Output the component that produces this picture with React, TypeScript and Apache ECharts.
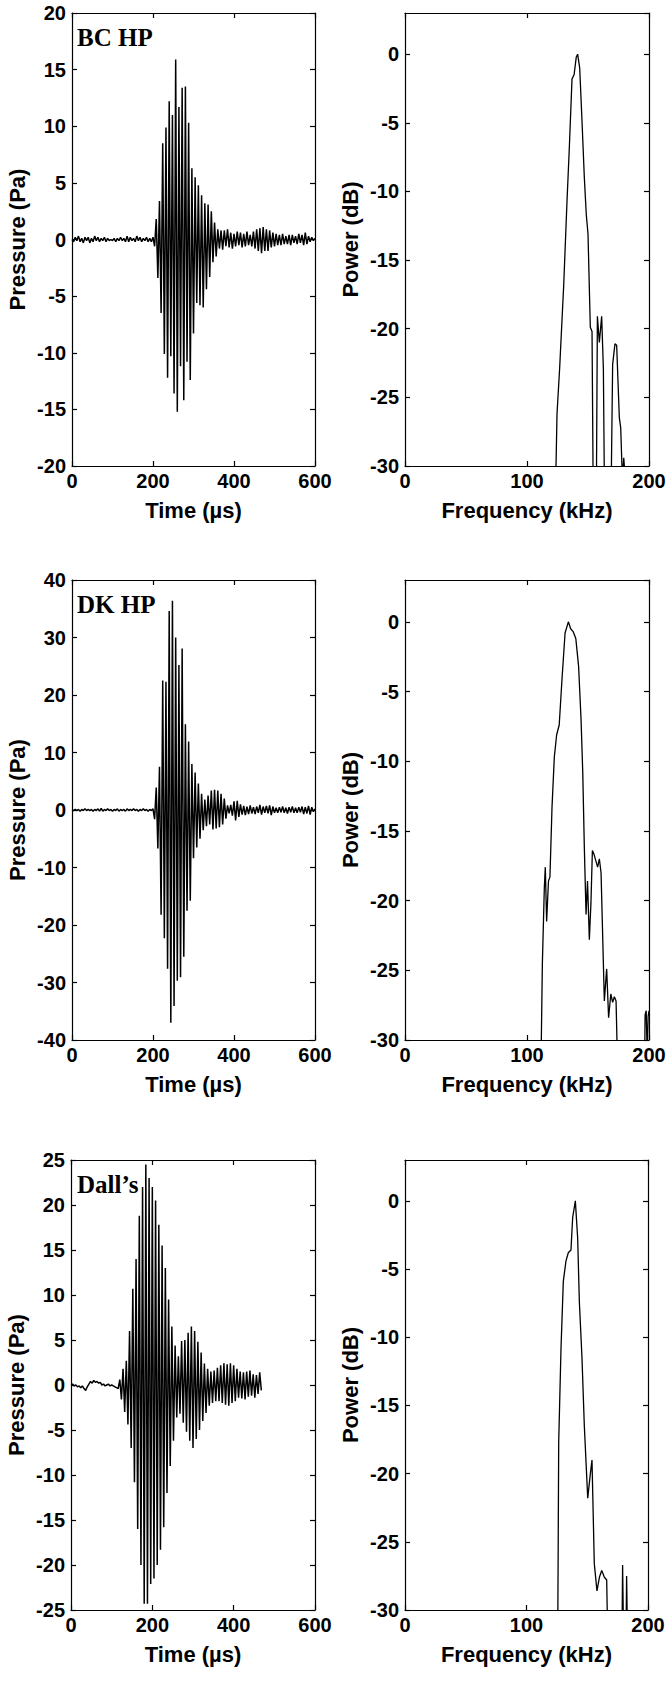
import React, { useEffect, useRef } from "react";
import * as echarts from "echarts";

// ---- data ----
const TIME_STEP_US = 4; // waveform sample grid (µs)

const timeAxisRange = { min: 0, max: 600, interval: 200 };
const freqAxisRange = { min: 0, max: 200, interval: 100 };
const bcHpPressureRange = { min: -20, max: 20, interval: 5 };
const dkHpPressureRange = { min: -40, max: 40, interval: 10 };
const dallsPressureRange = { min: -25, max: 25, interval: 5 };
const powerRange = { min: -30, max: 3, interval: 5 };

const panelLabels = ["BC HP", "DK HP", "Dall\u2019s"];

const bcHpPressure = [
  0.0, -0.2, 0.2, -0.1, 0.3, -0.2, 0.1, -0.3, 0.2, -0.1,
  0.2, -0.3, 0.1, -0.2, 0.3, -0.1, 0.2, -0.2, 0.1, -0.1,
  0.2, -0.2, 0.1, -0.1, 0.0, -0.1, 0.1, -0.2, 0.1, -0.1,
  0.2, -0.1, 0.1, -0.2, 0.3, -0.2, 0.2, -0.1, 0.1, -0.2,
  0.3, -0.1, 0.2, -0.2, 0.1, -0.1, 0.2, -0.2, 0.1, -0.2,
  0.2, -0.6, 1.8, -3.4, 3.4, -6.5, 8.5, -10.1, 9.9, -12.2,
  12.2, -10.3, 11.0, -13.6, 15.9, -15.2, 11.7, -11.2, 13.4, -14.2,
  13.5, -10.8, 10.3, -12.4, 6.3, -8.3, 5.5, -5.6, 4.8, -5.8,
  3.9, -6.0, 3.2, -4.4, 3.1, -3.3, 2.5, -2.0, 1.5, -1.5,
  0.9, -0.8, 0.8, -0.9, 0.8, -0.6, 0.9, -0.7, 0.6, -0.8,
  0.5, -0.6, 0.7, -0.5, 0.6, -0.7, 0.5, -0.6, 0.7, -0.5,
  0.4, -0.6, 0.7, -0.8, 0.9, -1.0, 1.0, -1.2, 1.1, -1.0,
  0.9, -1.0, 0.8, -0.7, 0.6, -0.6, 0.5, -0.5, 0.4, -0.5,
  0.5, -0.4, 0.3, -0.4, 0.4, -0.5, 0.4, -0.3, 0.3, -0.4,
  0.5, -0.3, 0.4, -0.5, 0.6, -0.4, 0.3, -0.2, 0.2, -0.1,
  0.1,
];

const dkHpPressure = [
  0.0, -0.1, 0.1, -0.1, 0.1, -0.2, 0.1, -0.1, 0.2, -0.1,
  0.1, -0.1, 0.1, -0.2, 0.1, -0.1, 0.2, -0.2, 0.3, -0.2,
  0.1, -0.1, 0.2, -0.1, 0.1, -0.2, 0.1, -0.1, 0.2, -0.2,
  0.1, -0.1, 0.1, -0.2, 0.2, -0.1, 0.1, -0.1, 0.2, -0.1,
  0.1, -0.2, 0.1, -0.1, 0.2, -0.1, 0.1, -0.2, 0.1, -0.1,
  0.2, -1.6, 3.9, -6.7, 7.5, -18.2, 22.5, -22.3, 22.3, -27.6,
  34.6, -37.0, 36.4, -34.1, 30.0, -29.7, 25.2, -29.1, 28.1, -25.5,
  14.9, -17.5, 11.9, -15.8, 8.0, -8.4, 6.5, -6.5, 4.6, -5.0,
  2.8, -3.5, 1.8, -2.8, 2.5, -2.5, 3.4, -3.4, 3.5, -3.2,
  3.4, -3.0, 2.8, -2.5, 2.0, -1.5, 0.8, -0.6, 0.9, -1.0,
  1.5, -1.8, 1.6, -1.2, 1.0, -0.8, 0.7, -0.9, 0.6, -0.7,
  0.8, -0.6, 0.5, -0.7, 0.6, -0.5, 0.9, -0.8, 0.6, -0.5,
  0.7, -0.6, 0.8, -0.9, 0.6, -0.5, 0.4, -0.5, 0.5, -0.4,
  0.6, -0.5, 0.4, -0.6, 0.5, -0.4, 0.6, -0.5, 0.4, -0.5,
  0.5, -0.4, 0.6, -0.7, 0.5, -0.6, 0.7, -0.8, 0.5, -0.3,
  0.2,
];

const dallsPressure = [
  0.0, 0.1, -0.1, 0.0, -0.2, -0.1, -0.3, -0.1, -0.4, -0.6,
  -0.2, 0.1, 0.4, 0.2, 0.5, 0.3, 0.4, 0.2, 0.3, 0.0,
  0.1, -0.1, 0.0, 0.1, -0.1, 0.0, -0.1, -0.2, -0.3, -0.4,
  0.6, -1.6, 1.8, -3.0, 2.7, -4.4, 6.0, -7.0, 10.7, -10.8,
  14.0, -16.0, 18.8, -20.0, 22.0, -24.3, 24.5, -24.3, 23.0, -22.1,
  22.0, -21.5, 20.5, -20.0, 17.8, -18.3, 15.5, -15.8, 13.0, -12.0,
  9.5, -9.0, 6.5, -6.2, 4.4, -3.6, 3.2, -3.2, 4.9, -4.2,
  5.0, -5.2, 5.8, -6.2, 6.5, -7.0, 6.0, -6.0, 4.8, -5.0,
  3.6, -4.0, 2.4, -3.1, 1.8, -2.3, 1.5, -2.0, 1.6, -1.8,
  1.9, -1.8, 2.2, -2.0, 2.4, -2.2, 2.3, -2.3, 2.4, -2.0,
  2.2, -1.8, 1.8, -1.4, 1.5, -1.5, 1.4, -1.6, 1.5, -1.3,
  1.6, -1.2, 1.2, -1.4, 1.1, -1.0, 1.4, -0.6,
];

// [frequency kHz, power dB]
const bcHpSpectrum = [
  [122.5, -36], [124.6, -26.2], [126.8, -22.8], [130.1, -16.8], [132.8, -10.7],
  [134.7, -6.8], [136.9, -1.8], [138.6, -1.5], [140.4, -0.2], [141.5, 0],
  [143.2, -1.0], [145.1, -4.9], [147.0, -9.0], [148.6, -11.7], [150.0, -13.1],
  [151.9, -19.9], [153.3, -20.2], [154.6, -36], [156.6, -36], [157.7, -19.1],
  [159.3, -21.0], [161.2, -19.1], [162.6, -22.9], [163.9, -36], [168.4, -36],
  [170.2, -22.6], [172.1, -21.1], [173.5, -21.2], [175.7, -26.5], [176.8, -27.2],
  [178.2, -31], [179.3, -29.4], [180.6, -31], [182.0, -36],
];

const dkHpSpectrum = [
  [110.8, -36], [112.6, -24.5], [114.2, -19.1], [115.0, -17.6], [116.1, -21.5],
  [117.6, -18.6], [118.8, -18.3], [120.5, -13.3], [122.4, -9.7], [124.3, -8.1],
  [126.4, -7.4], [128.7, -4.1], [131.2, -0.8], [133.9, 0], [135.8, -0.5],
  [137.8, -0.7], [140.0, -1.2], [142.3, -3.2], [144.3, -7.0], [145.7, -10.8],
  [147.0, -16.2], [148.4, -21.0], [149.6, -18.6], [151.1, -22.8], [152.4, -20.2],
  [153.6, -16.4], [155.0, -16.7], [156.6, -17.2], [157.9, -17.6], [159.3, -17.0],
  [160.7, -18.0], [163.4, -27.2], [165.3, -24.9], [166.9, -28.4], [168.7, -26.7],
  [170.2, -27.3], [171.6, -26.9], [173.0, -27.2], [175.3, -36], [196.0, -36],
  [196.8, -28.2], [197.7, -27.9], [198.5, -31], [199.3, -28.3], [200.0, -27.9],
];

const dallsSpectrum = [
  [125.5, -36], [126.5, -17.7], [128.4, -10.8], [130.3, -5.9], [132.5, -4.4],
  [134.4, -3.8], [136.6, -3.6], [138.0, -1.2], [140.2, 0], [142.1, -2.7],
  [143.5, -7.4], [145.7, -11.6], [147.6, -16.5], [150.4, -21.8], [152.3, -20.2],
  [153.9, -19.0], [155.8, -26.6], [158.0, -28.6], [160.0, -27.6], [161.9, -27.1],
  [164.1, -27.6], [166.0, -27.8], [167.6, -36], [178.2, -36], [179.1, -26.7],
  [180.5, -36], [181.5, -36], [182.4, -27.5], [183.8, -36],
];

// ---- layout ----
const ROWS = [
  { top: 13, height: 453 },
  { top: 580, height: 460 },
  { top: 1160, height: 450 },
];
const GRIDS = [
  { left: 72, width: 243, ...ROWS[0] },
  { left: 405, width: 244, ...ROWS[0] },
  { left: 72, width: 243, ...ROWS[1] },
  { left: 405, width: 244, ...ROWS[1] },
  { left: 71, width: 244, ...ROWS[2] },
  { left: 405, width: 243, ...ROWS[2] },
];

const SANS = '"Liberation Sans", Arial, sans-serif';
const SERIF = '"Liberation Serif", "Times New Roman", serif';

function axisBase(gridIndex: number) {
  return {
    gridIndex,
    type: "value" as const,
    axisLine: { show: true, onZero: false, lineStyle: { color: "#000", width: 1.2 } },
    axisTick: { show: true, inside: true, length: 5, lineStyle: { color: "#000", width: 1.2 } },
    splitLine: { show: false },
  };
}

function buildOption() {
  const xAxis: any[] = [];
  const yAxis: any[] = [];
  const series: any[] = [];
  const panels = [
    { x: timeAxisRange, y: bcHpPressureRange, xName: "Time (\u00b5s)", yName: "Pressure (Pa)", hideMax: false, wave: true, data: bcHpPressure.map((p, i) => [i * TIME_STEP_US, p]) },
    { x: freqAxisRange, y: powerRange, xName: "Frequency (kHz)", yName: "Power (dB)", hideMax: true, wave: false, data: bcHpSpectrum },
    { x: timeAxisRange, y: dkHpPressureRange, xName: "Time (\u00b5s)", yName: "Pressure (Pa)", hideMax: false, wave: true, data: dkHpPressure.map((p, i) => [i * TIME_STEP_US, p]) },
    { x: freqAxisRange, y: powerRange, xName: "Frequency (kHz)", yName: "Power (dB)", hideMax: true, wave: false, data: dkHpSpectrum },
    { x: timeAxisRange, y: dallsPressureRange, xName: "Time (\u00b5s)", yName: "Pressure (Pa)", hideMax: false, wave: true, data: dallsPressure.map((p, i) => [i * TIME_STEP_US, p]) },
    { x: freqAxisRange, y: powerRange, xName: "Frequency (kHz)", yName: "Power (dB)", hideMax: true, wave: false, data: dallsSpectrum },
  ];
  panels.forEach((pnl, k) => {
    xAxis.push({
      ...axisBase(k),
      position: "bottom",
      ...pnl.x,
      name: pnl.xName,
      nameLocation: "middle",
      nameGap: 33,
      nameTextStyle: { color: "#000", fontSize: 22, fontWeight: "bold", fontFamily: SANS },
      axisLabel: { color: "#000", fontSize: 20, fontWeight: "bold", fontFamily: SANS, margin: 5 },
    });
    xAxis.push({ ...axisBase(k), position: "top", ...pnl.x, axisLabel: { show: false } });
    yAxis.push({
      ...axisBase(k),
      position: "left",
      ...pnl.y,
      name: pnl.yName,
      nameLocation: "middle",
      nameRotate: 90,
      nameGap: 44,
      nameTextStyle: { color: "#000", fontSize: 22, fontWeight: "bold", fontFamily: SANS },
      axisLabel: { color: "#000", fontSize: 20, fontWeight: "bold", fontFamily: SANS, margin: 6, showMaxLabel: !pnl.hideMax },
    });
    yAxis.push({ ...axisBase(k), position: "right", ...pnl.y, axisLabel: { show: false } });
    series.push({
      type: "line",
      xAxisIndex: 2 * k,
      yAxisIndex: 2 * k,
      data: pnl.data,
      showSymbol: false,
      symbol: "none",
      clip: true,
      lineStyle: { color: "#000", width: pnl.wave ? 1.5 : 1.3 },
    });
  });

  const graphic = panelLabels.map((t, i) => ({
    type: "text",
    x: 77,
    y: ROWS[i].top + 12,
    style: { text: t, font: `bold 25px ${SERIF}`, fill: "#000", verticalAlign: "top" },
    z: 10,
  }));

  return {
    animation: false,
    backgroundColor: "#fff",
    grid: GRIDS,
    xAxis,
    yAxis,
    series,
    graphic,
  };
}

export default function App() {
  const ref = useRef<HTMLDivElement>(null);
  useEffect(() => {
    if (!ref.current) return;
    const chart = echarts.init(ref.current, undefined, { renderer: "svg" });
    chart.setOption(buildOption() as any);
    return () => chart.dispose();
  }, []);
  return (
    <div
      ref={ref}
      style={{ position: "absolute", left: 0, top: 0, width: 672, height: 1688, background: "#fff" }}
    />
  );
}
